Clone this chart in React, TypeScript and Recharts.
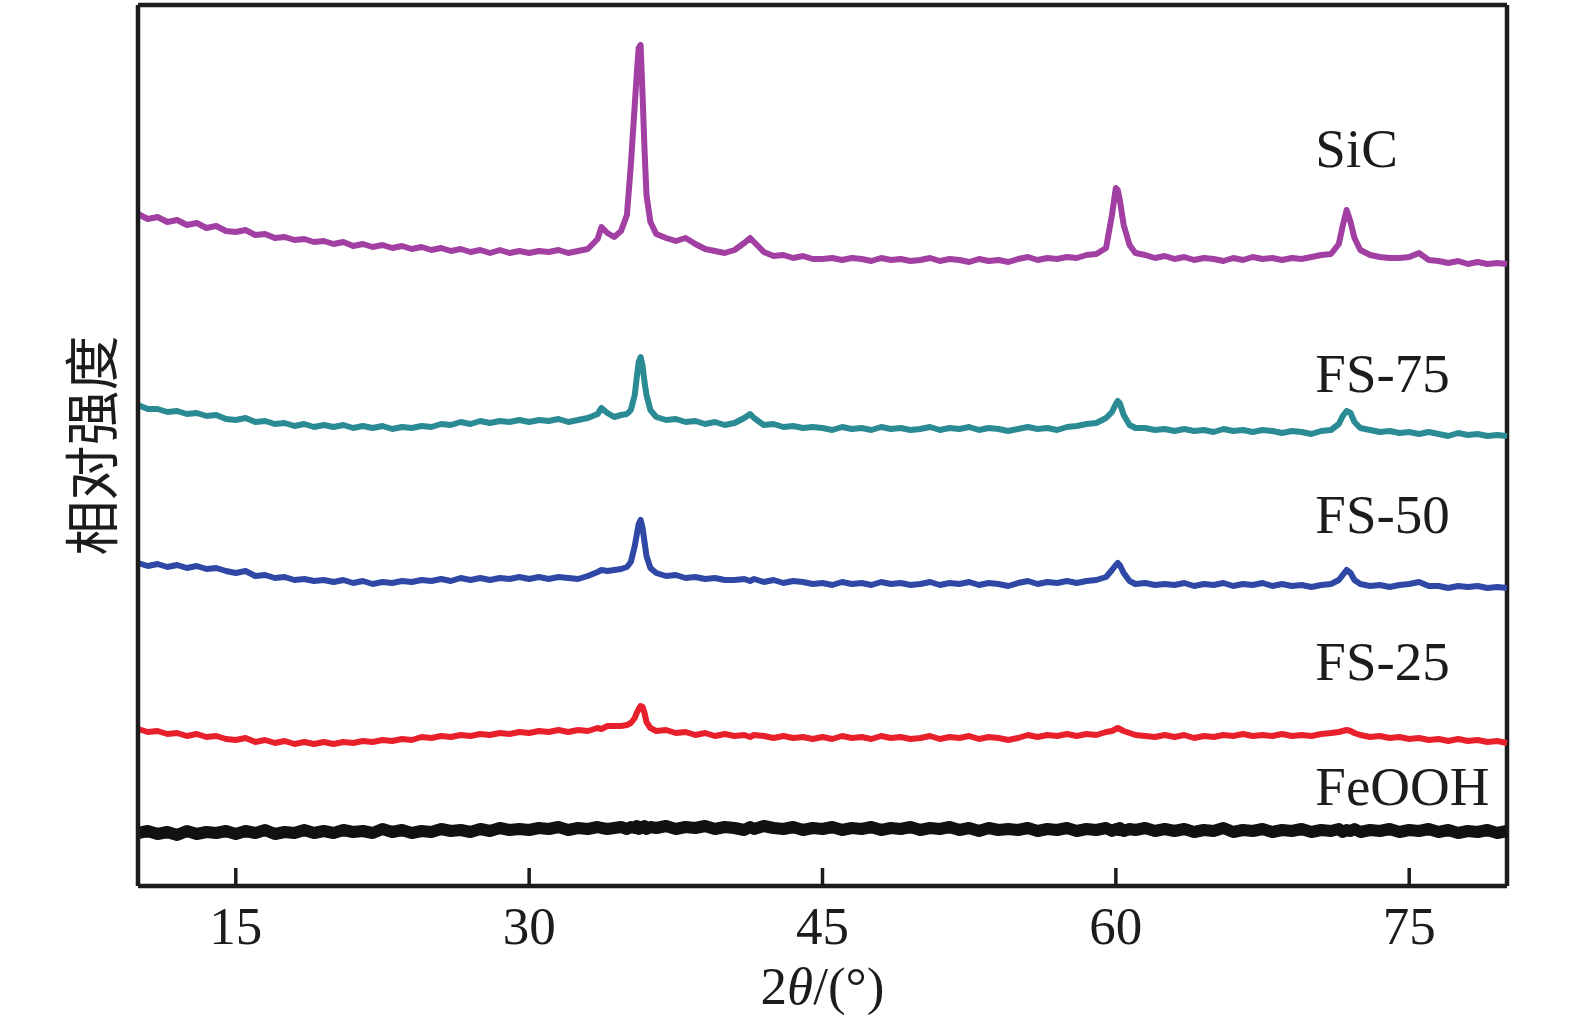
import { LineChart, Line, XAxis, YAxis, ReferenceDot, ReferenceLine } from "recharts"

// 2θ positions (degrees), finer around the SiC reflections
const twoTheta = [
  10, 10.5, 11, 11.5, 12, 12.5, 13, 13.5, 14, 14.5,
  15, 15.5, 16, 16.5, 17, 17.5, 18, 18.5, 19, 19.5,
  20, 20.5, 21, 21.5, 22, 22.5, 23, 23.5, 24, 24.5,
  25, 25.5, 26, 26.5, 27, 27.5, 28, 28.5, 29, 29.5,
  30, 30.5, 31, 31.5, 32, 32.5, 33, 33.5, 33.7, 34,
  34.35, 34.7, 35, 35.2, 35.4, 35.5, 35.6, 35.7, 35.8, 35.9,
  36, 36.2, 36.5, 37, 37.5, 38, 38.5, 39, 39.5, 40,
  40.5, 41, 41.3, 41.5, 42, 42.5, 43, 43.5, 44, 44.5,
  45, 45.5, 46, 46.5, 47, 47.5, 48, 48.5, 49, 49.5,
  50, 50.5, 51, 51.5, 52, 52.5, 53, 53.5, 54, 54.5,
  55, 55.5, 56, 56.5, 57, 57.5, 58, 58.5, 59, 59.5,
  59.8, 60, 60.1, 60.2, 60.4, 60.7, 61, 61.5, 62, 62.5,
  63, 63.5, 64, 64.5, 65, 65.5, 66, 66.5, 67, 67.5,
  68, 68.5, 69, 69.5, 70, 70.5, 71, 71.4, 71.6, 71.8,
  72, 72.2, 72.5, 73, 73.5, 74, 74.5, 75, 75.5, 76,
  76.5, 77, 77.5, 78, 78.5, 79, 79.5, 80,
]

// relative intensity (offset-stacked, arbitrary units)
const sic = [
  672, 667, 669, 664, 666, 661, 663, 658, 660, 655,
  654, 656, 651, 652, 648, 649, 646, 647, 644, 645,
  642, 644, 640, 642, 639, 641, 638, 640, 637, 639,
  636, 638, 635, 637, 634, 636, 633, 636, 633, 635,
  633, 635, 634, 636, 633, 635, 637, 647, 659, 653,
  649, 655, 671, 721, 781, 811, 838, 841, 791, 736,
  691, 664, 652, 648, 645, 648, 642, 637, 635, 633,
  636, 643, 648, 644, 634, 630, 631, 628, 630, 627,
  627, 628, 626, 628, 627, 625, 628, 626, 627, 625,
  626, 628, 625, 627, 626, 624, 627, 625, 626, 624,
  627, 629, 626, 628, 627, 629, 628, 631, 632, 638,
  671, 698, 696, 686, 661, 641, 633, 631, 628, 630,
  627, 629, 626, 628, 627, 625, 628, 626, 629, 627,
  628, 626, 628, 627, 629, 631, 632, 642, 660, 676,
  664, 648, 636, 631, 629, 628, 628, 629, 633, 626,
  625, 623, 625, 622, 624, 622, 623, 622,
]

const fs75 = [
  481, 477, 477, 474, 475, 472, 473, 470, 471, 467,
  466, 468, 464, 465, 462, 463, 460, 462, 459, 461,
  459, 461, 458, 460, 458, 460, 457, 459, 458, 460,
  459, 462, 461, 464, 462, 465, 463, 465, 464, 466,
  464, 466, 465, 467, 464, 466, 468, 472, 478, 473,
  469, 471, 472, 476, 491, 508, 524, 529, 520, 504,
  491, 476, 469, 466, 467, 464, 465, 462, 464, 461,
  463, 468, 472, 468, 461, 462, 459, 460, 458, 459,
  458, 456, 459, 457, 458, 456, 459, 457, 458, 456,
  457, 459, 456, 458, 457, 459, 456, 458, 457, 455,
  457, 459, 457, 458, 456, 459, 460, 462, 463, 468,
  474, 482, 485, 483, 471, 461, 458, 458, 456, 457,
  455, 457, 455, 456, 454, 457, 455, 456, 454, 456,
  455, 453, 455, 454, 452, 455, 456, 462, 470, 475,
  473, 464, 458, 456, 454, 455, 453, 454, 452, 454,
  452, 450, 453, 451, 452, 450, 451, 450,
]

const fs50 = [
  323, 320, 322, 319, 321, 318, 320, 317, 318, 315,
  313, 315, 310, 311, 308, 309, 306, 307, 305, 306,
  304, 306, 303, 305, 302, 304, 303, 305, 304, 306,
  305, 307, 305, 308, 306, 308, 306, 308, 307, 309,
  307, 309, 307, 309, 308, 307, 310, 314, 316, 315,
  316, 317, 319, 324, 340, 351, 362, 366, 358, 344,
  330, 318, 313, 310, 311, 308, 309, 307, 308, 306,
  306, 307, 305, 307, 304, 306, 303, 305, 304, 302,
  303, 301, 304, 302, 303, 301, 304, 302, 303, 301,
  302, 304, 301, 303, 302, 304, 301, 303, 302, 300,
  303, 305, 302, 304, 303, 305, 303, 305, 306, 309,
  316, 321, 323, 321, 313, 305, 302, 303, 301, 302,
  301, 303, 300, 302, 301, 303, 300, 302, 301, 303,
  300, 302, 300, 301, 299, 301, 302, 306, 311, 316,
  313, 306, 302, 300, 301, 299, 301, 302, 304, 300,
  300, 298, 300, 299, 300, 298, 299, 298,
]

const fs25 = [
  157, 154, 155, 152, 153, 150, 152, 149, 150, 147,
  146, 148, 144, 146, 143, 145, 142, 144, 142, 144,
  142, 144, 143, 145, 144, 146, 145, 147, 146, 149,
  148, 150, 149, 151, 150, 152, 151, 153, 152, 154,
  153, 155, 154, 156, 154, 156, 155, 158, 157, 160,
  160, 160, 161, 163, 168, 173, 177, 180, 179, 173,
  164, 158, 155, 156, 153, 154, 151, 153, 150, 152,
  150, 151, 149, 151, 150, 148, 150, 148, 149, 147,
  149, 147, 150, 148, 149, 147, 150, 148, 149, 147,
  148, 150, 147, 149, 148, 150, 147, 149, 148, 146,
  148, 151, 149, 151, 150, 152, 150, 152, 151, 154,
  155, 157, 158, 157, 155, 153, 151, 150, 149, 151,
  149, 151, 148, 150, 149, 151, 150, 152, 150, 151,
  150, 152, 150, 151, 150, 152, 153, 154, 155, 156,
  155, 153, 151, 149, 150, 148, 149, 147, 148, 146,
  147, 145, 147, 145, 146, 144, 145, 143,
]

const feooh = [
  53, 55, 52, 54, 51, 55, 52, 54, 53, 55,
  52, 55, 53, 56, 52, 54, 53, 56, 53, 55,
  53, 56, 54, 55, 53, 57, 54, 56, 53, 55,
  54, 57, 55, 56, 54, 57, 55, 58, 56, 57,
  56, 58, 57, 59, 56, 58, 57, 59, 58, 57,
  58, 59, 57, 59, 58, 60, 57, 59, 58, 60,
  57, 59, 58, 60, 57, 59, 58, 60, 57, 59,
  58, 56, 59, 57, 60, 58, 57, 59, 56, 58,
  57, 59, 56, 58, 57, 59, 56, 58, 57, 59,
  56, 58, 57, 59, 56, 58, 55, 58, 56, 57,
  56, 58, 55, 57, 56, 58, 55, 57, 56, 58,
  55, 57, 56, 58, 55, 57, 56, 58, 55, 57,
  55, 57, 54, 56, 55, 58, 54, 56, 55, 57,
  54, 56, 55, 57, 54, 56, 55, 57, 54, 56,
  55, 57, 54, 56, 55, 57, 54, 56, 55, 57,
  54, 56, 53, 55, 54, 56, 53, 55,
]

const xTicks = [15, 30, 45, 60, 75]
const sampleNames = ["SiC", "FS-75", "FS-50", "FS-25", "FeOOH"]
const sampleColors = ["#a23fa3", "#2a8b95", "#2f48a6", "#e8202c", "#111111"]
const sampleKeys = ["sic", "fs75", "fs50", "fs25", "feooh"]
const nameX = 70.2
const nameY = [719, 494, 353, 206, 81]

const data = twoTheta.map((t, i) => ({
  t,
  sic: sic[i],
  fs75: fs75[i],
  fs50: fs50[i],
  fs25: fs25[i],
  feooh: feooh[i],
}))

const serif = "'Liberation Serif', 'Times New Roman', serif"
const ink = "#1c1c1c"

function BottomTick({ x, y, payload }: any) {
  return (
    <g>
      <line x1={x} y1={y} x2={x} y2={y - 18} stroke={ink} strokeWidth={3.5} />
      <text x={x} y={y + 58} textAnchor="middle" fontFamily={serif} fontSize={53} fill={ink}>
        {payload.value}
      </text>
    </g>
  )
}

export default function App() {
  return (
    <div style={{ position: "absolute", left: 0, top: 0, background: "#fff" }}>
      <LineChart width={1575} height={1024} data={data} margin={{ top: 5, right: 68, bottom: 78, left: 0 }}>
        <XAxis
          dataKey="t"
          type="number"
          domain={[10, 80]}
          ticks={xTicks}
          height={60}
          tickSize={0}
          tickMargin={0}
          tickLine={false}
          tick={<BottomTick />}
          axisLine={{ stroke: ink, strokeWidth: 4.5 }}
          label={(p: any) => (
            <text
              x={p.viewBox.x + p.viewBox.width / 2}
              y={p.viewBox.y + 118}
              textAnchor="middle"
              fontFamily={serif}
              fontSize={53}
              fill={ink}
            >
              2<tspan fontStyle="italic">θ</tspan>/(°)
            </text>
          )}
        />
        <YAxis
          type="number"
          domain={[0, 881]}
          width={138}
          tick={false}
          tickLine={false}
          axisLine={{ stroke: ink, strokeWidth: 4.5 }}
          label={(p: any) => {
            const cx = p.viewBox.x + 88
            const cy = p.viewBox.y + p.viewBox.height / 2
            return (
              <text
                x={cx}
                y={cy}
                transform={`rotate(-90, ${cx}, ${cy})`}
                textAnchor="middle"
                dominantBaseline="central"
                fontFamily="'Noto Sans CJK SC', sans-serif"
                fontSize={55}
                fill={ink}
              >
                相对强度
              </text>
            )
          }}
        />
        <ReferenceLine y={881} stroke={ink} strokeWidth={4.5} ifOverflow="visible" />
        <ReferenceLine x={80} stroke={ink} strokeWidth={4.5} ifOverflow="visible" />
        {sampleKeys.map((k, i) => (
          <Line
            key={k}
            type="linear"
            dataKey={k}
            stroke={sampleColors[i]}
            strokeWidth={k === "feooh" ? 12 : 6}
            strokeLinejoin="round"
            dot={false}
            activeDot={false}
            isAnimationActive={false}
          />
        ))}
        {sampleNames.map((name, i) => (
          <ReferenceDot
            key={name}
            x={nameX}
            y={nameY[i]}
            r={0}
            fill="none"
            stroke="none"
            ifOverflow="visible"
            label={(p: any) => (
              <text x={p.viewBox.x} y={p.viewBox.y} fontFamily={serif} fontSize={55} fill={ink}>
                {name}
              </text>
            )}
          />
        ))}
      </LineChart>
    </div>
  )
}
